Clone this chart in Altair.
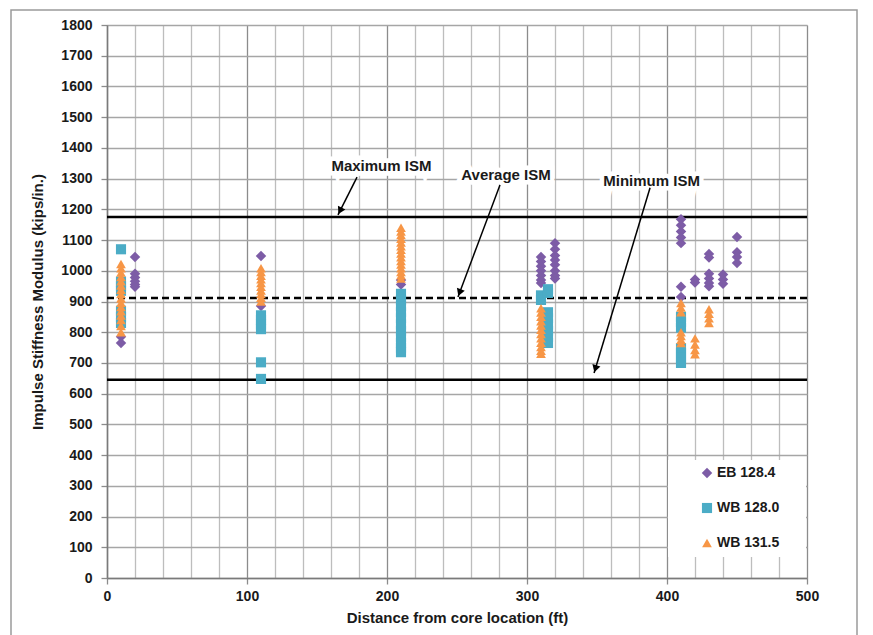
import math
import altair as alt
import pandas as pd

# ---------------- data ----------------
series_names = ["EB 128.4", "WB 128.0", "WB 131.5"]
series_colors = ["#7D5CA6", "#4BACC6", "#F79646"]
series_shapes = ["diamond", "square", "triangle-up"]
series_sizes = [110, 95, 100]

eb_x = [10, 10,
        20, 20, 20, 20, 20, 20,
        110, 110,
        210, 210,
        310, 310, 310, 310, 310, 310, 310,
        320, 320, 320, 320, 320, 320, 320, 320,
        410, 410, 410, 410, 410, 410, 410,
        420, 420,
        430, 430, 430, 430, 430, 430,
        440, 440, 440,
        450, 450, 450, 450]
eb_y = [785, 765,
        1045, 990, 978, 966, 955, 948,
        1048, 885,
        970, 955,
        1045, 1030, 1015, 1000, 985, 970, 960,
        1090, 1070, 1050, 1035, 1020, 1000, 985, 975,
        1168, 1148, 1128, 1108, 1090, 948, 915,
        972, 962,
        1055, 1043, 990, 975, 960, 950,
        988, 972, 958,
        1110, 1060, 1045, 1025]

wb128_x = [10, 10, 10, 10, 10, 10, 10,
           110, 110, 110, 110, 110, 110,
           210, 210, 210, 210, 210, 210, 210, 210, 210, 210, 210,
           310, 310,
           315, 315, 315, 315, 315, 315, 315, 315,
           410, 410, 410, 410, 410, 410, 410]
wb128_y = [1070, 965, 950, 935, 870, 850, 830,
           855, 840, 825, 810, 702, 648,
           925, 905, 885, 865, 845, 825, 805, 785, 765, 750, 735,
           920, 905,
           940, 928, 865, 845, 825, 805, 785, 765,
           850, 832, 815, 748, 732, 716, 700]

wb1315_x = [10] * 16 + [110] * 10 + [210] * 15 + [310] * 12 + [410] * 7 + [420] * 4 + [430] * 4
wb1315_y = [1022, 1008, 994, 980, 966, 952, 938, 924, 910, 896, 882, 868, 854, 840, 820, 800,
            1008, 996, 984, 972, 960, 948, 936, 924, 912, 900,
            1140, 1128, 1116, 1104, 1092, 1080, 1068, 1056, 1044, 1032, 1020, 1008, 996, 985, 975,
            878, 864, 850, 836, 822, 808, 794, 780, 766, 752, 740, 730,
            895, 880, 865, 800, 788, 775, 765,
            780, 760, 742, 728,
            875, 860, 845, 830]

ref_names = ["Maximum ISM", "Average ISM", "Minimum ISM"]
ref_values = [1175, 911, 645]

ann_text = ["Maximum ISM", "Average ISM", "Minimum ISM"]
ann_x = [196, 285, 389]
ann_y = [1341, 1312, 1292]
arrow_x1 = [178.6, 280.7, 387.9]
arrow_y1 = [1305, 1279, 1270]
arrow_x2 = [165.0, 250.7, 347.9]
arrow_y2 = [1182, 915, 667]

X_MAX, Y_MAX = 500, 1800
W, H = 700, 553

# ---------------- tables ----------------
rows = []
for name, xs, ys in zip(series_names, [eb_x, wb128_x, wb1315_x], [eb_y, wb128_y, wb1315_y]):
    for xv, yv in zip(xs, ys):
        rows.append({"x": xv, "y": yv, "series": name})
pts = pd.DataFrame(rows)

refs = pd.DataFrame({"name": ref_names, "y": ref_values})

px_x = W / X_MAX
px_y = H / Y_MAX
heads = []
for x1, y1, x2, y2 in zip(arrow_x1, arrow_y1, arrow_x2, arrow_y2):
    dx = (x2 - x1) * px_x
    dy = -(y2 - y1) * px_y
    L = math.hypot(dx, dy)
    ang = math.degrees(math.atan2(dx, -dy)) % 360
    back = 4.5
    cx = x2 - (dx / L) * back / px_x
    cy = y2 + (dy / L) * back / px_y
    heads.append({"x": cx, "y": cy, "ang": ang})
arrows = pd.DataFrame({"x1": arrow_x1, "y1": arrow_y1, "x2": arrow_x2, "y2": arrow_y2})
heads = pd.DataFrame(heads)
anns = pd.DataFrame({"text": ann_text, "x": ann_x, "y": ann_y})

FONT = "Liberation Sans"
xscale = alt.Scale(domain=[0, X_MAX], nice=False, zero=False)
yscale = alt.Scale(domain=[0, Y_MAX], nice=False, zero=False)

x_axis = alt.Axis(
    values=list(range(0, X_MAX + 1, 20)),
    format="d",
    labelExpr="datum.value % 100 === 0 ? datum.label : ''",
    labelOverlap=False, labelBound=False, labelFlush=False,
    title="Distance from core location (ft)",
    grid=True,
    gridColor={"condition": {"test": "datum.value % 100 === 0", "value": "#8c8c8c"}, "value": "#bdbdbd"},
    gridWidth=1.3,
    tickOpacity={"condition": {"test": "datum.value % 100 === 0", "value": 1}, "value": 0},
    tickColor="#8c8c8c", tickSize=6, tickWidth=1.3,
    domainColor="#7a7a7a", domainWidth=1.5,
    labelFont=FONT, labelFontSize=14, labelFontWeight="bold", labelColor="#1a1a1a",
    labelPadding=5,
    titleFont=FONT, titleFontSize=15, titleFontWeight="bold", titleColor="#1a1a1a",
    titlePadding=7,
)
y_axis = alt.Axis(
    values=list(range(0, Y_MAX + 1, 100)),
    format="d",
    labelOverlap=False, labelBound=False, labelFlush=False,
    title="Impulse Stiffness Modulus (kips/in.)",
    grid=True, gridColor="#a6a6a6", gridWidth=1.5,
    tickColor="#8c8c8c", tickSize=6, tickWidth=1.3,
    domainColor="#7a7a7a", domainWidth=1.5,
    labelFont=FONT, labelFontSize=14, labelFontWeight="bold", labelColor="#1a1a1a",
    labelPadding=9,
    titleFont=FONT, titleFontSize=15, titleFontWeight="bold", titleColor="#1a1a1a",
    titlePadding=15,
)


def X(field):
    return alt.X(field, scale=xscale, axis=x_axis)


def Y(field):
    return alt.Y(field, scale=yscale, axis=y_axis)


leg = dict(title=None, orient="none", legendX=593, legendY=441,
           labelFont=FONT, labelFontSize=14, labelFontWeight="bold",
           labelColor="#1a1a1a", symbolSize=85, rowPadding=21,
           labelOffset=3, padding=0, symbolStrokeWidth=0)

points = alt.Chart(pts).mark_point(filled=True, opacity=1, strokeWidth=0).encode(
    x=X("x:Q"), y=Y("y:Q"),
    color=alt.Color("series:N", scale=alt.Scale(domain=series_names, range=series_colors),
                    legend=alt.Legend(**leg)),
    shape=alt.Shape("series:N", scale=alt.Scale(domain=series_names, range=series_shapes),
                    legend=alt.Legend(**leg)),
    size=alt.Size("series:N", scale=alt.Scale(domain=series_names, range=series_sizes), legend=None),
    order=alt.Order("series:N"),
)

ref_solid = alt.Chart(refs[refs["name"] != "Average ISM"]).mark_rule(
    color="#000000", strokeWidth=2.5
).encode(y=Y("y:Q"))
ref_dashed = alt.Chart(refs[refs["name"] == "Average ISM"]).mark_rule(
    color="#000000", strokeWidth=2.5, strokeDash=[7, 4]
).encode(y=Y("y:Q"))

legend_box = alt.Chart(refs.head(1)).mark_rect(fill="white").encode(
    x=alt.value(561), x2=alt.value(699), y=alt.value(435), y2=alt.value(532)
)

arrow_lines = alt.Chart(arrows).mark_rule(color="#000000", strokeWidth=1.5).encode(
    x=X("x1:Q"), y=Y("y1:Q"), x2="x2:Q", y2="y2:Q",
)
arrow_heads = alt.Chart(heads).mark_point(shape="triangle-up", filled=True, color="#000000",
                                           opacity=1, size=70, strokeWidth=0).encode(
    x=X("x:Q"), y=Y("y:Q"), angle=alt.Angle("ang:Q", scale=None),
)

ann_halo = alt.Chart(anns).mark_text(
    font=FONT, fontSize=15, fontWeight="bold", color="white", stroke="white", strokeWidth=9
).encode(x=X("x:Q"), y=Y("y:Q"), text="text:N")
ann_txt = alt.Chart(anns).mark_text(
    font=FONT, fontSize=15, fontWeight="bold", color="#1a1a1a"
).encode(x=X("x:Q"), y=Y("y:Q"), text="text:N")

frame = alt.Chart(refs.head(1)).mark_rect(fill=None, stroke="#9a9a9a", strokeWidth=1.5, clip=False).encode(
    x=alt.value(-96), x2=alt.value(750), y=alt.value(-15), y2=alt.value(640)
)

chart = alt.layer(
    legend_box, ann_halo, ref_solid, ref_dashed, arrow_lines, arrow_heads, ann_txt, points, frame
).properties(
    width=W, height=H,
    autosize=alt.AutoSizeParams(type="none"),
    padding={"left": 99, "top": 17, "right": 58, "bottom": 57},
).configure_view(
    stroke="#a6a6a6", strokeWidth=1.5
).configure(background="white")

chart.save("out.html", embed_options={"renderer": "svg", "actions": False})
